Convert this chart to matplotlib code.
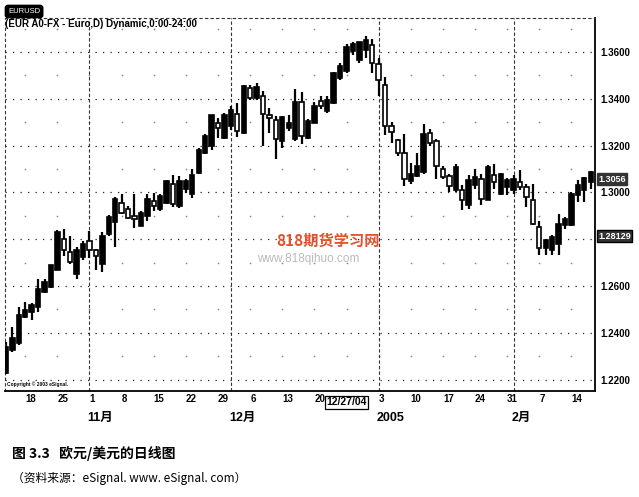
import matplotlib
matplotlib.use("Agg")
import matplotlib.pyplot as plt
import matplotlib.transforms as mtransforms
import numpy as np
import pandas as pd

plt.rcParams['font.family'] = ['Liberation Sans', 'Noto Sans CJK SC', 'DejaVu Sans']

# daily EUR/USD candles, 2004-10-13 .. 2005-02-17 (weekdays)
dates = pd.bdate_range("2004-10-13", periods=92)

opens = [1.2226, 1.2326, 1.2354, 1.2468, 1.2489, 1.2510, 1.2574, 1.2596, 1.2666, 1.2801,
         1.2744, 1.2652, 1.2723, 1.2794, 1.2752, 1.2695, 1.2823, 1.2872, 1.2956, 1.2927,
         1.2899, 1.2856, 1.2899, 1.2963, 1.2927, 1.2956, 1.3034, 1.2941, 1.3013, 1.2991,
         1.3083, 1.3169, 1.3197, 1.3296, 1.3233, 1.3282, 1.3336, 1.3255, 1.3445, 1.3403,
         1.3410, 1.3332, 1.3308, 1.3219, 1.3276, 1.3226, 1.3388, 1.3233, 1.3297, 1.3391,
         1.3346, 1.3381, 1.3487, 1.3520, 1.3604, 1.3565, 1.3607, 1.3628, 1.3548, 1.3459,
         1.3283, 1.3223, 1.3170, 1.3050, 1.3071, 1.3085, 1.3254, 1.3219, 1.3099, 1.3071,
         1.3012, 1.3008, 1.2944, 1.3030, 1.3058, 1.2966, 1.3072, 1.2994, 1.3023, 1.3008,
         1.3044, 1.3023, 1.2966, 1.2852, 1.2760, 1.2753, 1.2781, 1.2859, 1.2859, 1.2987,
         1.3008, 1.3044]
highs = [1.2362, 1.2426, 1.2510, 1.2532, 1.2525, 1.2631, 1.2631, 1.2690, 1.2837, 1.2844,
         1.2815, 1.2766, 1.2794, 1.2834, 1.2759, 1.2830, 1.2901, 1.2979, 1.2991, 1.2941,
         1.2994, 1.2920, 1.2991, 1.2998, 1.2995, 1.3051, 1.3076, 1.3069, 1.3055, 1.3098,
         1.3190, 1.3250, 1.3332, 1.3318, 1.3339, 1.3367, 1.3381, 1.3459, 1.3459, 1.3469,
         1.3431, 1.3360, 1.3325, 1.3328, 1.3330, 1.3441, 1.3427, 1.3314, 1.3388, 1.3410,
         1.3410, 1.3515, 1.3551, 1.3635, 1.3642, 1.3642, 1.3666, 1.3656, 1.3572, 1.3494,
         1.3300, 1.3227, 1.3251, 1.3127, 1.3170, 1.3290, 1.3269, 1.3226, 1.3113, 1.3078,
         1.3121, 1.3030, 1.3072, 1.3101, 1.3079, 1.3115, 1.3122, 1.3082, 1.3062, 1.3072,
         1.3097, 1.3037, 1.3037, 1.2876, 1.2802, 1.2816, 1.2906, 1.2895, 1.3001, 1.3054,
         1.3066, 1.3093]
lows = [1.2222, 1.2319, 1.2347, 1.2461, 1.2453, 1.2489, 1.2570, 1.2593, 1.2666, 1.2726,
        1.2695, 1.2631, 1.2709, 1.2720, 1.2666, 1.2659, 1.2815, 1.2766, 1.2906, 1.2885,
        1.2849, 1.2856, 1.2878, 1.2920, 1.2920, 1.2950, 1.2937, 1.2934, 1.2998, 1.2977,
        1.3080, 1.3162, 1.3183, 1.3233, 1.3230, 1.3268, 1.3238, 1.3248, 1.3393, 1.3395,
        1.3198, 1.3255, 1.3142, 1.3191, 1.3262, 1.3219, 1.3205, 1.3228, 1.3297, 1.3356,
        1.3339, 1.3378, 1.3480, 1.3508, 1.3586, 1.3553, 1.3572, 1.3511, 1.3410, 1.3247,
        1.3212, 1.3156, 1.3029, 1.3036, 1.3064, 1.3078, 1.3198, 1.3057, 1.3057, 1.3001,
        1.3001, 1.2923, 1.2930, 1.3016, 1.2944, 1.2966, 1.3016, 1.2990, 1.2987, 1.2994,
        1.3011, 1.2937, 1.2862, 1.2731, 1.2731, 1.2731, 1.2731, 1.2845, 1.2855, 1.2958,
        1.2958, 1.3016]
closes = [1.2340, 1.2376, 1.2475, 1.2496, 1.2518, 1.2588, 1.2617, 1.2688, 1.2830, 1.2752,
          1.2702, 1.2752, 1.2780, 1.2752, 1.2730, 1.2815, 1.2894, 1.2972, 1.2913, 1.2892,
          1.2885, 1.2913, 1.2970, 1.2942, 1.2984, 1.3048, 1.2949, 1.3048, 1.3048, 1.3076,
          1.3183, 1.3240, 1.3332, 1.3275, 1.3332, 1.3353, 1.3262, 1.3455, 1.3402, 1.3452,
          1.3336, 1.3318, 1.3226, 1.3320, 1.3297, 1.3388, 1.3240, 1.3304, 1.3367, 1.3367,
          1.3395, 1.3508, 1.3540, 1.3620, 1.3635, 1.3642, 1.3649, 1.3551, 1.3480, 1.3283,
          1.3258, 1.3170, 1.3057, 1.3078, 1.3113, 1.3251, 1.3212, 1.3114, 1.3064, 1.3029,
          1.3110, 1.2966, 1.3051, 1.3065, 1.2973, 1.3108, 1.3044, 1.3079, 1.3051, 1.3058,
          1.3023, 1.2980, 1.2866, 1.2760, 1.2795, 1.2809, 1.2866, 1.2888, 1.2994, 1.3030,
          1.3062, 1.3086]

price_ticks = [1.22, 1.24, 1.26, 1.28, 1.30, 1.32, 1.34, 1.36]
month_texts = ["11月", "12月", "2005", "2月"]
last_price = "1.3056"
cursor_price = 1.28129
cursor_date = "12/27/04"

o = np.array(opens)
h = np.array(highs)
l = np.array(lows)
c = np.array(closes)
x = np.arange(1, len(dates) + 1)

fig = plt.figure(figsize=(6.39, 4.97), dpi=100)
ax = fig.add_axes([5 / 639, 106 / 497, 590 / 639, 373 / 497])

ax.set_xlim(0.85, 92.67)
ax.set_ylim(1.2151, 1.3745)

mondays = x[dates.weekday == 0]
month_starts = x[1:][dates.month[1:] != dates.month[:-1]]
cur_x = x[dates == pd.Timestamp("2004-12-27")][0]

# grid
for p in price_ticks:
    ax.axhline(p, color="#222222", lw=0.9, ls=(0, (1, 5)), zorder=1)
half = np.arange(1.23, 1.375, 0.02)
mx, my = np.meshgrid(mondays, half)
ax.scatter(mx.ravel(), my.ravel(), s=1.5, color="#888888", zorder=1, linewidths=0)
for m in month_starts:
    ax.axvline(m, color="#333333", lw=0.8, ls=(0, (3, 2)), zorder=1)

# candles
up = c >= o
ax.vlines(x, l, h, color="black", lw=1.6, zorder=2)
bottom = np.minimum(o, c)
height = np.maximum(np.abs(c - o), 0.0004)
ax.bar(x, height, bottom=bottom, width=0.68,
       color=np.where(up, "black", "white"), edgecolor="black", lw=1.2, zorder=3)

# axes look
for side in ["left", "top"]:
    ax.spines[side].set_linestyle((0, (2, 3)))
    ax.spines[side].set_linewidth(0.8)
    ax.spines[side].set_color("#333333")
for side in ["right", "bottom"]:
    ax.spines[side].set_linewidth(1.3)

# the cursor price box covers the 1.2800 label
ax.yaxis.tick_right()
ax.set_yticks(price_ticks)
ax.set_yticklabels(["" if abs(p - 1.28) < 1e-9 else "%.4f" % p for p in price_ticks],
                   fontsize=7, fontweight="bold")
ax.tick_params(axis="y", length=0, pad=4)

# the cursor date box covers the 27 label
ax.set_xticks(mondays)
ax.set_xticklabels(["" if m == cur_x else str(d.day) for m, d in zip(mondays, dates[mondays - 1])],
                   fontsize=7, fontweight="bold")
ax.tick_params(axis="x", length=0, pad=2)
for lbl in ax.get_xticklabels():
    lbl.set_ha("left")

trans = mtransforms.blended_transform_factory(ax.transData, ax.transAxes)
for m, t in zip(month_starts, month_texts):
    ax.text(m - 0.3, -0.072, t, transform=trans, fontsize=9, fontweight="bold",
            ha="left", va="center", family=["Liberation Sans", "Noto Sans CJK SC"])

ax.text(cur_x, -0.03, cursor_date, transform=trans, fontsize=7.5, fontweight="bold",
        ha="center", va="center", zorder=6,
        bbox=dict(boxstyle="square,pad=0.15", fc="white", ec="black", lw=0.9))

ytrans = mtransforms.blended_transform_factory(ax.transAxes, ax.transData)
ax.text(1.005, 1.3056, last_price, transform=ytrans, fontsize=6.5, fontweight="bold",
        color="white", va="center", ha="left",
        bbox=dict(boxstyle="square,pad=0.15", fc="#333333", ec="#333333"))
ax.text(1.005, cursor_price, "%.5f" % cursor_price, transform=ytrans, fontsize=6.5,
        fontweight="bold", color="white", va="center", ha="left",
        bbox=dict(boxstyle="square,pad=0.15", fc="#333333", ec="black"))

ax.text(0.003, 0.012, "Copyright \u00a9 2003 eSignal.", transform=ax.transAxes,
        fontsize=3.5, fontweight="bold", va="bottom")

# header
fig.text(8 / 639, 1 - 11.5 / 497, "EURUSD", fontsize=5.5, color="white", va="center",
         bbox=dict(boxstyle="round,pad=0.35", fc="black", ec="black"))
fig.text(5 / 639, 1 - 24 / 497, "(EUR A0-FX - Euro,D) Dynamic,0:00-24:00",
         fontsize=7, fontweight="bold", va="center")

# watermark
fig.text(276 / 639, 1 - 241 / 497, "818期货学习网", fontsize=11, fontweight="bold",
         color="#e2532d", va="center", family=["Noto Sans CJK SC"])
fig.text(257 / 639, 1 - 259 / 497, "www.818qihuo.com", fontsize=8.5,
         color="#bbbbbb", va="center")

# caption
fig.text(12 / 639, 1 - 453 / 497, "图 3.3   欧元/美元的日线图", fontsize=10, fontweight="bold",
         va="center", family=["Noto Sans CJK SC", "DejaVu Sans"])
fig.text(12 / 639, 1 - 478 / 497, "（资料来源：eSignal. www. eSignal. com）", fontsize=8.5,
         va="center", family=["Noto Sans CJK SC", "DejaVu Sans"])

fig.savefig("out.png", dpi=100)
